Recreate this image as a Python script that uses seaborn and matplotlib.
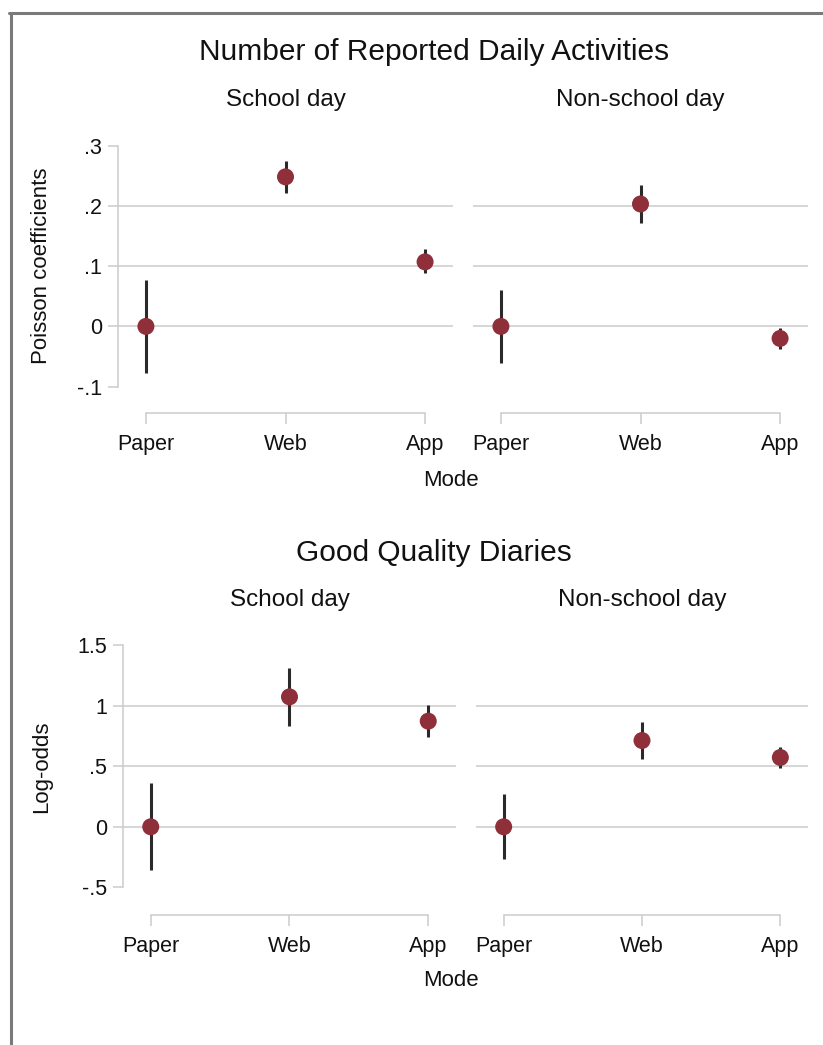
import pandas as pd
import matplotlib
matplotlib.use("Agg")
import matplotlib.pyplot as plt
from matplotlib.lines import Line2D
import seaborn as sns

# data
modes = ["Paper", "Web", "App"]

act_school_est = [0.0, 0.248, 0.107]
act_school_lo = [-0.077, 0.222, 0.088]
act_school_hi = [0.077, 0.275, 0.129]

act_nonschool_est = [0.0, 0.203, -0.020]
act_nonschool_lo = [-0.061, 0.171, -0.038]
act_nonschool_hi = [0.061, 0.234, -0.002]

qual_school_est = [0.0, 1.074, 0.873]
qual_school_lo = [-0.358, 0.837, 0.740]
qual_school_hi = [0.358, 1.314, 1.008]

qual_nonschool_est = [0.0, 0.713, 0.573]
qual_nonschool_lo = [-0.264, 0.564, 0.484]
qual_nonschool_hi = [0.267, 0.864, 0.661]

act_ticks = [-0.1, 0.0, 0.1, 0.2, 0.3]
act_ticklabels = ["-.1", "0", ".1", ".2", ".3"]
qual_ticks = [-0.5, 0.0, 0.5, 1.0, 1.5]
qual_ticklabels = ["-.5", "0", ".5", "1", "1.5"]

sns.set_style("white")
plt.rcParams["font.family"] = ["Liberation Sans", "DejaVu Sans"]

W, H = 823, 1045
fig = plt.figure(figsize=(W / 100, H / 100), dpi=100)

dot = "#8e2f3a"
bar = "#2a2a2a"
light = "#cccccc"


def px_axes(x0, x1, ytop, ybot):
    return fig.add_axes([x0 / W, 1 - ybot / H, (x1 - x0) / W, (ybot - ytop) / H])


def panel(ax, est, lo, hi, ticks, ticklabels, show_y, ylabel, offset, label_x=-0.2):
    df = pd.DataFrame({"mode": modes, "est": est, "lo": lo, "hi": hi})
    ax.vlines(df["mode"], df["lo"], df["hi"], color=bar, lw=2.2, zorder=2)
    sns.scatterplot(data=df, x="mode", y="est", ax=ax, color=dot, s=150,
                    edgecolor="none", zorder=3, legend=False)
    ax.set_xlim(-0.2, 2.2)
    ax.set_ylim(ticks[0], ticks[-1])
    for t in ticks[1:-1]:
        ax.axhline(t, color=light, lw=1.1, zorder=1)
    for s in ["top", "right"]:
        ax.spines[s].set_visible(False)
    ax.spines["bottom"].set_position(("outward", offset))
    ax.spines["bottom"].set_bounds(0, 2)
    ax.spines["bottom"].set_color(light)
    ax.spines["bottom"].set_linewidth(1.1)
    ax.tick_params(axis="x", length=8, width=1.1, color=light, pad=7,
                   labelsize=15.5, labelcolor="#111111", bottom=True)
    ax.set_xticks(range(len(modes)))
    ax.set_xticklabels(modes)
    ax.set_xlabel("")
    if show_y:
        ax.spines["left"].set_color(light)
        ax.spines["left"].set_linewidth(1.1)
        ax.set_yticks(ticks)
        ax.set_yticklabels(ticklabels)
        ax.tick_params(axis="y", length=7.5, width=1.1, color=light, pad=4,
                       labelsize=15.5, labelcolor="#111111", left=True)
        ax.set_ylabel(ylabel, fontsize=16, color="#111111")
        ax.yaxis.set_label_coords(label_x, 0.5)
    else:
        ax.spines["left"].set_visible(False)
        ax.set_yticks([])
        ax.set_ylabel("")


# top block
ax1 = px_axes(118, 453, 145.5, 386.7)
ax2 = px_axes(473, 808, 145.5, 386.7)
panel(ax1, act_school_est, act_school_lo, act_school_hi, act_ticks, act_ticklabels,
      True, "Poisson coefficients", 19, label_x=-0.197)
panel(ax2, act_nonschool_est, act_nonschool_lo, act_nonschool_hi, act_ticks, act_ticklabels,
      False, "", 19)

# bottom block
ax3 = px_axes(123, 456, 645.3, 887.3)
ax4 = px_axes(476, 808, 645.3, 887.3)
panel(ax3, qual_school_est, qual_school_lo, qual_school_hi, qual_ticks, qual_ticklabels,
      True, "Log-odds", 20, label_x=-0.213)
panel(ax4, qual_nonschool_est, qual_nonschool_lo, qual_nonschool_hi, qual_ticks, qual_ticklabels,
      False, "", 20)

# titles and labels
fig.text(434 / W, 1 - 52 / H, "Number of Reported Daily Activities", ha="center", va="center",
         fontsize=21.5, color="#111111")
fig.text(434 / W, 1 - 553 / H, "Good Quality Diaries", ha="center", va="center",
         fontsize=21.5, color="#111111")
for ax, name in [(ax1, "School day"), (ax2, "Non-school day"),
                 (ax3, "School day"), (ax4, "Non-school day")]:
    ax.text(0.5, 1 + 45 / 241, name, transform=ax.transAxes, ha="center", va="center",
            fontsize=17.5, color="#111111")
fig.text(451 / W, 1 - 480 / H, "Mode", ha="center", va="center", fontsize=16, color="#111111")
fig.text(451 / W, 1 - 981 / H, "Mode", ha="center", va="center", fontsize=16, color="#111111")

# screenshot frame
fig.add_artist(Line2D([9 / W, 1], [1 - 12.5 / H, 1 - 12.5 / H], color="#7a7a7a", lw=2.2))
fig.add_artist(Line2D([10.5 / W, 10.5 / W], [0, 1 - 12.5 / H], color="#7a7a7a", lw=2.2))

fig.savefig("out.png", dpi=100)
